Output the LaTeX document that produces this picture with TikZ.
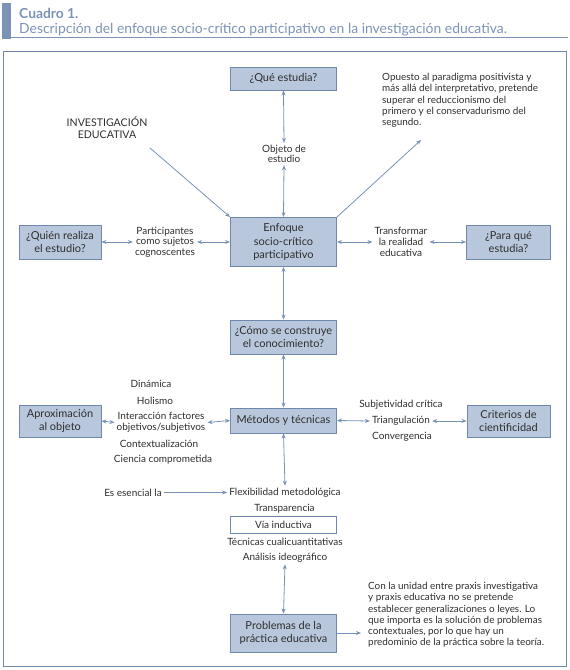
\documentclass[tikz,border=0pt]{standalone}
\usepackage{fontspec}
\setmainfont{Lato}
\usetikzlibrary{arrows.meta}
\definecolor{boxfill}{HTML}{B9C7DD}
\definecolor{boxdraw}{HTML}{6F88AC}
\definecolor{arrowc}{HTML}{7892B6}
\definecolor{titlec}{HTML}{7C93B6}
\definecolor{txt}{HTML}{2E2E2E}
\tikzset{
  bbox/.style={draw=boxdraw, fill=boxfill, line width=0.9pt, align=center, text=txt,
    font=\fontsize{11}{13.4}\selectfont, inner sep=0pt},
  lbl/.style={align=center, text=txt, font=\fontsize{10}{10.6}\selectfont, inner sep=2pt},
  para/.style={align=left, text=txt, font=\fontsize{9.9}{11.3}\selectfont, inner sep=0pt},
  conn/.style={draw=arrowc, line width=0.8pt, -{Stealth[length=5pt,width=4pt]}},
  dconn/.style={draw=arrowc, line width=0.8pt, {Stealth[length=5pt,width=4pt]}-{Stealth[length=5pt,width=4pt]}},
}
\begin{document}
\begin{tikzpicture}[x=1pt,y=-1pt]
\useasboundingbox (0,0) rectangle (570,670);
% title
\fill[titlec] (2,3) rectangle (11,39);
\draw[titlec, line width=0.8pt] (11,37.5) -- (568,37.5);
\node[anchor=base west, text=titlec, inner sep=0pt, font=\fontsize{13.8}{15}\selectfont\bfseries] (t1) at (19,18) {Cuadro 1.};
\node[anchor=base west, text=titlec, inner sep=0pt, font=\fontsize{13.9}{15}\selectfont] (t2) at (19,33) {Descripción del enfoque socio-crítico participativo en la investigación educativa.};
% frame
\draw[boxdraw, line width=0.9pt] (3,51) rectangle (566,666);

% boxes
\node[bbox, minimum width=106pt, minimum height=23pt] (que) at (283.5,78.5) {¿Qué estudia?};
\node[bbox, minimum width=106pt, minimum height=49pt] (enf) at (283.5,242) {Enfoque\\socio-crítico\\participativo};
\node[bbox, minimum width=82pt, minimum height=34pt] (quien) at (60,242) {¿Quién realiza\\el estudio?};
\node[bbox, minimum width=84pt, minimum height=34pt] (parac) at (508.5,242) {¿Para qué\\estudia?};
\node[bbox, minimum width=106pt, minimum height=34pt] (como) at (283.5,337) {¿Cómo se construye\\el conocimiento?};
\node[bbox, minimum width=106pt, minimum height=25pt] (met) at (283.5,420.5) {Métodos y técnicas};
\node[bbox, minimum width=82pt, minimum height=32pt] (aprox) at (60,421) {Aproximación\\al objeto};
\node[bbox, minimum width=83pt, minimum height=32pt] (crit) at (508.5,421) {Criterios de\\cientificidad};
\node[bbox, minimum width=106pt, minimum height=38pt] (prob) at (283.5,633) {Problemas de la\\práctica educativa};

% labels
\node[lbl] (obj) at (284,154) {Objeto de\\estudio};
\node[lbl, font=\fontsize{10.6}{12}\selectfont] (inv) at (107,128) {INVESTIGACIÓN\\EDUCATIVA};
\node[para, anchor=north west] (opu) at (382,73) {Opuesto al paradigma positivista y\\más allá del interpretativo, pretende\\superar el reduccionismo del\\primero y el conservadurismo del\\segundo.};
\coordinate (opuend) at (421,140);
\node[lbl] (part) at (165,242) {Participantes\\como sujetos\\cognoscentes};
\node[lbl] (transf) at (401,242) {Transformar\\la realidad\\educativa};

\node[lbl] (din) at (151,384) {Dinámica};
\node[lbl] (hol) at (155,400.5) {Holismo};
\node[lbl] (inter) at (161,422.5) {Interacción factores\\objetivos/subjetivos};
\node[lbl] (cont) at (159,443.5) {Contextualización};
\node[lbl] (cien) at (163,459.5) {Ciencia comprometida};

\node[lbl] (subj) at (401,405) {Subjetividad crítica};
\node[lbl] (tri) at (401,421) {Triangulación};
\node[lbl] (conv) at (402,437) {Convergencia};

\node[lbl] (es) at (133,492.5) {Es esencial la};
\node[lbl] (flex) at (285,492.5) {Flexibilidad metodológica};
\node[lbl] (transp) at (284.5,508.5) {Transparencia};
\node[lbl, draw=boxdraw, line width=0.8pt, fill=white, minimum width=106pt, minimum height=17pt, inner sep=0pt] (via) at (283.5,525) {Vía inductiva};
\node[lbl] (tec) at (285,541.5) {Técnicas cualicuantitativas};
\node[lbl] (ana) at (285,557.5) {Análisis ideográfico};

\node[para, anchor=north west] (con) at (368,582) {Con la unidad entre praxis investigativa\\y praxis educativa no se pretende\\establecer generalizaciones o leyes. Lo\\que importa es la solución de problemas\\contextuales, por lo que hay un\\predominio de la práctica sobre la teoría.};
\coordinate (conend) at (361,633);

% connectors
\coordinate (invs) at (150,148);
\draw[conn] (invs) -- (enf.north west);
\draw[dconn] (que.south) -- (obj.north);
\draw[dconn] (obj.south) -- (enf.north);
\draw[conn] (enf.north east) -- (opuend);
\draw[dconn] (quien.east) -- (part.west);
\draw[dconn] (part.east) -- (enf.west);
\draw[dconn] (enf.east) -- (transf.west);
\draw[dconn] (transf.east) -- (parac.west);
\draw[dconn] (enf.south) -- (como.north);
\draw[dconn] (como.south) -- (met.north);
\draw[dconn] (aprox.east) -- (inter.west);
\draw[dconn] (inter.east) -- (met.west);
\draw[dconn] (met.east) -- (tri.west);
\draw[dconn] (tri.east) -- (crit.west);
\draw[dconn] (met.south) -- (flex.north);
\draw[conn] (es.east) -- (flex.west);
\draw[dconn] (ana.south) -- (prob.north);
\draw[conn] (prob.east) -- (conend);
\end{tikzpicture}
\end{document}
